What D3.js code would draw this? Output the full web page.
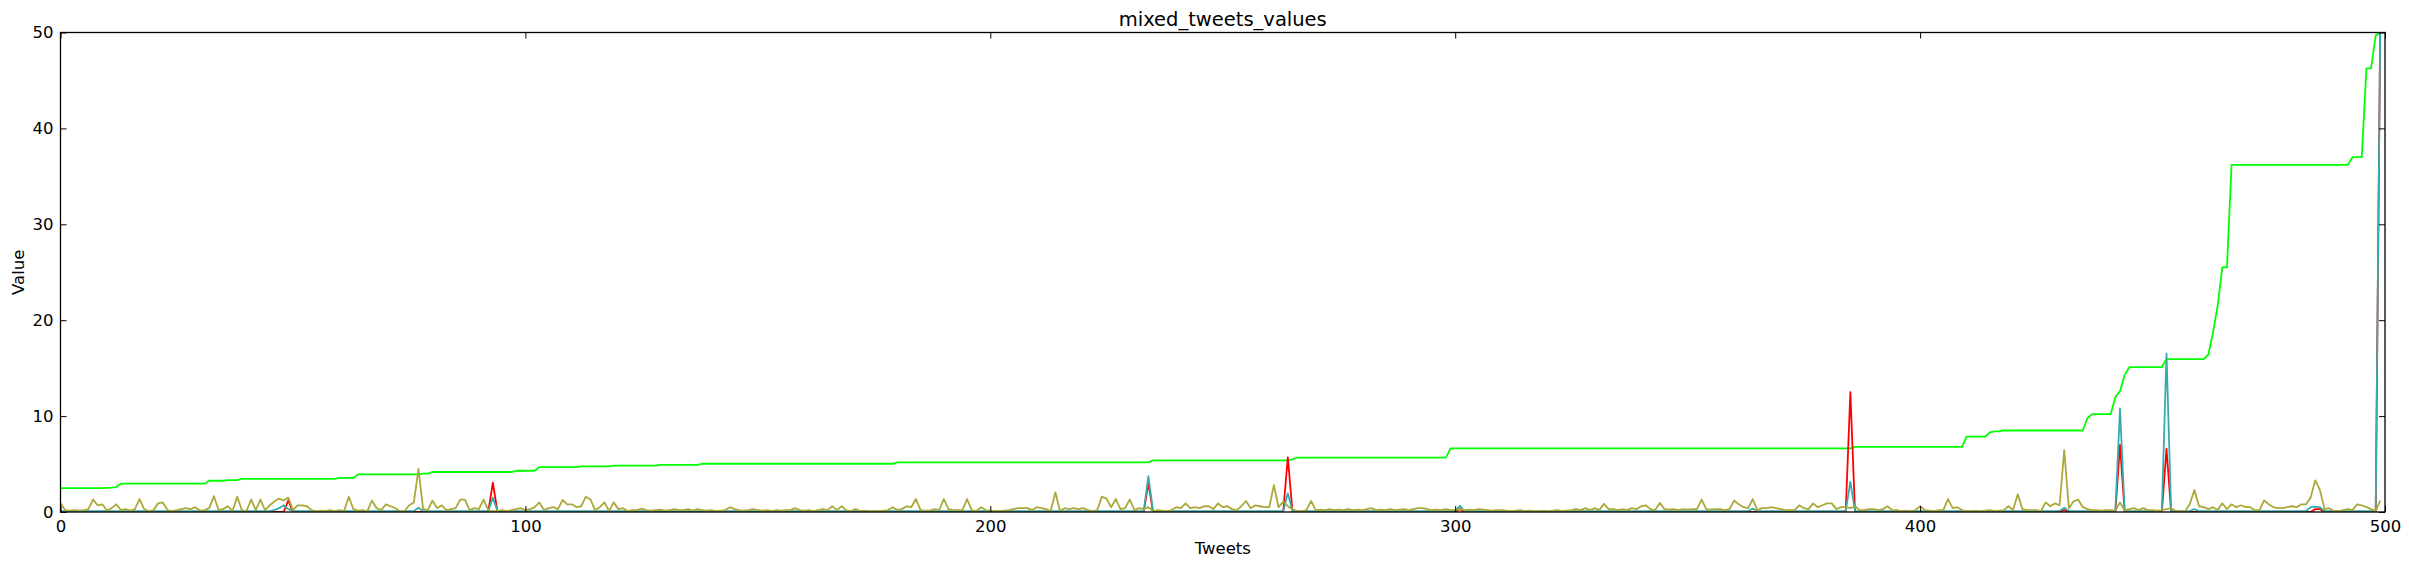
<!DOCTYPE html>
<html>
<head>
<meta charset="utf-8">
<script src="https://cdn.jsdelivr.net/npm/d3@7"></script>
<style>
  body { margin: 0; background: #fff; }
  text { font-family: "DejaVu Sans", sans-serif; fill: #000; }
</style>
</head>
<body>
<script>
// size
var w = 2409, h = 570;
var plotL = 60.5, plotR = 2385, plotT = 32.5, plotB = 512;

// x ticks / y ticks
var xTicks = [0, 100, 200, 300, 400, 500];
var yTicks = [0, 10, 20, 30, 40, 50];

// green series (index 0..499), 20 per row
var greenVals = [
  2.5,2.5,2.5,2.5,2.5,2.5,2.5,2.5,2.5,2.5,  2.52,2.55,2.6,2.95,2.95,2.95,2.95,2.95,2.95,2.95,
  2.95,2.95,2.95,2.95,2.95,2.95,2.95,2.95,2.95,2.95,  2.95,2.95,3.26,3.26,3.26,3.26,3.33,3.33,3.33,3.45,
  3.45,3.45,3.45,3.45,3.45,3.45,3.45,3.45,3.45,3.45,  3.45,3.45,3.45,3.45,3.45,3.45,3.45,3.45,3.45,3.45,
  3.55,3.55,3.55,3.55,3.92,3.92,3.92,3.92,3.92,3.92,  3.92,3.92,3.92,3.92,3.92,3.92,3.92,3.92,4.0,4.0,
  4.17,4.17,4.17,4.17,4.17,4.17,4.17,4.17,4.17,4.17,  4.17,4.17,4.17,4.17,4.17,4.17,4.17,4.17,4.3,4.3,
  4.3,4.3,4.3,4.68,4.68,4.68,4.68,4.68,4.68,4.68,  4.68,4.68,4.75,4.75,4.75,4.75,4.75,4.75,4.75,4.83,
  4.83,4.83,4.83,4.83,4.83,4.83,4.83,4.83,4.83,4.92,  4.92,4.92,4.92,4.92,4.92,4.92,4.92,4.92,5.03,5.03,
  5.03,5.03,5.03,5.03,5.03,5.03,5.03,5.03,5.03,5.03,  5.03,5.03,5.03,5.03,5.03,5.03,5.03,5.03,5.03,5.03,
  5.03,5.03,5.03,5.03,5.03,5.03,5.03,5.03,5.03,5.03,  5.03,5.03,5.03,5.03,5.03,5.03,5.03,5.03,5.03,5.03,
  5.17,5.17,5.17,5.17,5.17,5.17,5.17,5.17,5.17,5.17,  5.17,5.17,5.17,5.17,5.17,5.17,5.17,5.17,5.17,5.17,
  5.17,5.17,5.17,5.17,5.17,5.17,5.17,5.17,5.17,5.17,  5.17,5.17,5.17,5.17,5.17,5.17,5.17,5.17,5.17,5.17,
  5.17,5.17,5.17,5.17,5.17,5.17,5.17,5.17,5.17,5.17,  5.17,5.17,5.17,5.17,5.17,5.38,5.38,5.38,5.38,5.38,
  5.38,5.38,5.38,5.38,5.38,5.38,5.38,5.38,5.38,5.38,  5.38,5.38,5.38,5.38,5.38,5.38,5.38,5.38,5.38,5.38,
  5.38,5.38,5.38,5.38,5.38,5.5,5.66,5.66,5.66,5.66,  5.66,5.66,5.66,5.66,5.66,5.66,5.66,5.66,5.66,5.66,
  5.66,5.66,5.66,5.66,5.66,5.66,5.66,5.66,5.66,5.66,  5.66,5.66,5.66,5.66,5.66,5.66,5.66,5.66,5.66,6.63,
  6.63,6.63,6.63,6.63,6.63,6.63,6.63,6.63,6.63,6.63,  6.63,6.63,6.63,6.63,6.63,6.63,6.63,6.63,6.63,6.63,
  6.63,6.63,6.63,6.63,6.63,6.63,6.63,6.63,6.63,6.63,  6.63,6.63,6.63,6.63,6.63,6.63,6.63,6.63,6.63,6.63,
  6.63,6.63,6.63,6.63,6.63,6.63,6.63,6.63,6.63,6.63,  6.63,6.63,6.63,6.63,6.63,6.63,6.63,6.63,6.63,6.63,
  6.63,6.63,6.63,6.63,6.63,6.63,6.63,6.63,6.63,6.63,  6.63,6.63,6.63,6.63,6.63,6.63,6.63,6.63,6.63,6.63,
  6.63,6.63,6.63,6.63,6.63,6.63,6.8,6.8,6.8,6.8,  6.8,6.8,6.8,6.8,6.8,6.8,6.8,6.8,6.8,6.8,
  6.8,6.8,6.8,6.8,6.8,6.8,6.8,6.8,6.8,6.8,  7.85,7.85,7.85,7.85,7.85,8.3,8.4,8.4,8.5,8.5,
  8.5,8.5,8.5,8.5,8.5,8.5,8.5,8.5,8.5,8.5,  8.5,8.5,8.5,8.5,8.5,8.5,9.8,10.2,10.2,10.2,
  10.2,10.2,12.0,12.6,14.3,15.1,15.1,15.1,15.1,15.1,  15.1,15.1,15.1,15.95,15.95,15.95,15.95,15.95,15.95,15.95,
  15.95,15.95,16.4,18.7,21.5,25.5,25.5,36.2,36.2,36.2,  36.2,36.2,36.2,36.2,36.2,36.2,36.2,36.2,36.2,36.2,
  36.2,36.2,36.2,36.2,36.2,36.2,36.2,36.2,36.2,36.2,  36.2,36.2,36.2,37.0,37.0,37.0,46.25,46.25,49.7,50
];

// red series
var redVals = [
  0,0,0,0,0,0,0,0,0,0,  0,0,0,0,0,0,0,0,0,0,
  0,0,0,0,0,0,0,0,0,0,  0,0,0,0,0,0,0,0,0,0,
  0,0,0,0,0,0,0,0,0,1.2,  0,0,0,0,0,0,0,0,0,0,
  0,0,0,0,0,0,0,0,0,0,  0,0,0,0,0,0,0,0,0,0,
  0,0,0,0,0,0,0,0,0,0,  0,0,0,3.05,0,0,0,0,0,0,
  0,0,0,0,0,0,0,0,0,0,  0,0,0,0,0,0,0,0,0,0,
  0,0,0,0,0,0,0,0,0,0,  0,0,0,0,0,0,0,0,0,0,
  0,0,0,0,0,0,0,0,0,0,  0,0,0,0,0,0,0,0,0,0,
  0,0,0,0,0,0,0,0,0,0,  0,0,0,0,0,0,0,0,0,0,
  0,0,0,0,0,0,0,0,0,0,  0,0,0,0,0,0,0,0,0,0,
  0,0,0,0,0,0,0,0,0,0,  0,0,0,0,0,0,0,0,0,0,
  0,0,0,0,0,0,0,0,0,0,  0,0,0,0,3.0,0,0,0,0,0,
  0,0,0,0,0,0,0,0,0,0,  0,0,0,0,0,0,0,0,0,0,
  0,0,0,0,5.7,0,0,0,0,0,  0,0,0,0,0,0,0,0,0,0,
  0,0,0,0,0,0,0,0,0,0,  0,0,0,0,0,0,0,0,0,0,
  0,0.3,0,0,0,0,0,0,0,0,  0,0,0,0,0,0,0,0,0,0,
  0,0,0,0,0,0,0,0,0,0,  0,0,0,0,0,0,0,0,0,0,
  0,0,0,0,0,0,0,0,0,0,  0,0,0,0,0,0,0,0,0,0,
  0,0,0,0,0,0,0,0,0,0,  0,0,0,0,0,0,0,0,0,0,
  0,0,0,0,0,12.5,0,0,0,0,  0,0,0,0,0,0,0,0,0,0,
  0,0,0,0,0,0,0,0,0,0,  0,0,0,0,0,0,0,0,0,0,
  0,0,0,0,0,0,0,0,0,0,  0,0.2,0,0,0,0,0,0,0,0,
  0,0,0,7.0,0,0,0,0,0,0,  0,0,0,6.6,0,0,0,0,0,0,
  0,0,0,0,0,0,0,0,0,0,  0,0,0,0,0,0,0,0,0,0,
  0,0,0,0,0,0.3,0.3,0,0,0,  0,0,0,0,0,0,0,0,0,52
];

// cyan series
var cyanVals = [
  0.1,0.1,0.1,0.1,0.1,0.1,0.1,0.1,0.1,0.1,  0.1,0.1,0.1,0.1,0.1,0.1,0.1,0.1,0.1,0.1,
  0.1,0.1,0.1,0.1,0.1,0.1,0.1,0.1,0.1,0.1,  0.1,0.1,0.1,0.1,0.1,0.1,0.1,0.1,0.1,0.1,
  0.1,0.1,0.1,0.1,0.1,0.1,0.2,0.4,0.7,0.3,  0.1,0.1,0.1,0.1,0.1,0.1,0.1,0.1,0.1,0.1,
  0.1,0.1,0.1,0.1,0.1,0.1,0.1,0.1,0.1,0.1,  0.1,0.1,0.1,0.1,0.1,0.1,0.1,0.45,0.1,0.1,
  0.1,0.1,0.1,0.1,0.1,0.1,0.1,0.1,0.1,0.1,  0.1,0.1,0.1,1.5,0.1,0.1,0.1,0.1,0.1,0.1,
  0.1,0.1,0.1,0.1,0.1,0.1,0.1,0.1,0.1,0.1,  0.1,0.1,0.1,0.1,0.1,0.1,0.1,0.1,0.1,0.1,
  0.1,0.1,0.1,0.1,0.1,0.1,0.1,0.1,0.1,0.1,  0.1,0.1,0.1,0.1,0.1,0.1,0.1,0.1,0.1,0.1,
  0.1,0.1,0.1,0.1,0.1,0.1,0.1,0.1,0.1,0.1,  0.1,0.1,0.1,0.1,0.1,0.1,0.1,0.1,0.1,0.1,
  0.1,0.1,0.1,0.1,0.1,0.1,0.1,0.1,0.1,0.1,  0.1,0.1,0.1,0.1,0.1,0.1,0.1,0.1,0.1,0.1,
  0.1,0.1,0.1,0.1,0.1,0.1,0.1,0.1,0.1,0.1,  0.1,0.1,0.1,0.1,0.1,0.1,0.1,0.1,0.1,0.1,
  0.1,0.1,0.1,0.1,0.1,0.1,0.1,0.1,0.1,0.1,  0.1,0.1,0.1,0.1,0.1,0.1,0.1,0.1,0.1,0.1,
  0.1,0.1,0.1,0.1,0.1,0.1,0.1,0.1,0.1,0.1,  0.1,0.1,0.1,0.1,3.75,0.1,0.1,0.1,0.1,0.1,
  0.1,0.1,0.1,0.1,0.1,0.1,0.1,0.1,0.1,0.1,  0.1,0.1,0.1,0.1,0.1,0.1,0.1,0.1,0.1,0.1,
  0.1,0.1,0.1,0.1,1.95,0.1,0.1,0.1,0.1,0.1,  0.1,0.1,0.1,0.1,0.1,0.1,0.1,0.1,0.1,0.1,
  0.1,0.1,0.1,0.1,0.1,0.1,0.1,0.1,0.1,0.1,  0.1,0.1,0.1,0.1,0.1,0.1,0.1,0.1,0.1,0.1,
  0.1,0.65,0.1,0.1,0.1,0.1,0.1,0.1,0.1,0.1,  0.1,0.1,0.1,0.1,0.1,0.1,0.1,0.1,0.1,0.1,
  0.1,0.1,0.1,0.1,0.1,0.1,0.1,0.1,0.1,0.1,  0.1,0.1,0.1,0.1,0.1,0.1,0.1,0.1,0.1,0.1,
  0.1,0.1,0.1,0.1,0.1,0.1,0.1,0.1,0.1,0.1,  0.1,0.1,0.1,0.1,0.1,0.1,0.1,0.1,0.1,0.1,
  0.1,0.1,0.1,0.1,0.35,0.1,0.1,0.1,0.1,0.1,  0.1,0.1,0.1,0.1,0.1,0.1,0.1,0.1,0.1,0.1,
  0.1,0.1,0.1,0.1,0.1,3.15,0.1,0.1,0.1,0.1,  0.1,0.1,0.1,0.1,0.1,0.1,0.1,0.1,0.1,0.1,
  0.1,0.1,0.1,0.1,0.1,0.1,0.1,0.1,0.1,0.1,  0.1,0.1,0.1,0.1,0.1,0.1,0.1,0.1,0.1,0.1,
  0.1,0.1,0.1,0.1,0.1,0.1,0.1,0.1,0.1,0.1,  0.1,0.45,0.1,0.1,0.1,0.1,0.1,0.1,0.1,0.1,
  0.1,0.1,0.1,10.8,0.1,0.1,0.1,0.1,0.1,0.1,  0.1,0.1,0.1,16.5,0.1,0.1,0.1,0.1,0.1,0.3,
  0.1,0.1,0.1,0.1,0.1,0.1,0.1,0.1,0.1,0.1,  0.1,0.1,0.1,0.1,0.1,0.1,0.1,0.1,0.1,0.1,
  0.1,0.1,0.1,0.1,0.5,0.55,0.5,0.1,0.1,0.1,  0.1,0.1,0.1,0.1,0.1,0.1,0.1,0.1,0.1,52
];

// olive series
var oliveVals = [
  0.9,0.2,0.15,0.2,0.15,0.2,0.3,1.3,0.7,0.8,  0.15,0.4,0.8,0.2,0.3,0.15,0.3,1.35,0.3,0.1,
  0.2,0.9,1.0,0.2,0.1,0.2,0.3,0.4,0.3,0.5,  0.15,0.2,0.4,1.65,0.2,0.3,0.6,0.1,1.6,0.2,
  0.1,1.3,0.2,1.3,0.2,0.7,1.1,1.4,1.2,1.5,  0.2,0.7,0.7,0.6,0.2,0.1,0.15,0.1,0.2,0.1,
  0.2,0.1,1.6,0.3,0.15,0.2,0.1,1.2,0.4,0.2,  0.8,0.6,0.4,0.1,0.1,0.7,1.0,4.5,0.3,0.2,
  1.2,0.4,0.7,0.2,0.3,0.4,1.3,1.3,0.2,0.4,  0.3,1.3,0.2,0.1,0.1,0.2,0.1,0.2,0.3,0.4,
  0.2,0.3,0.5,1.0,0.2,0.4,0.5,0.3,1.25,0.8,  0.8,0.5,0.6,1.6,1.3,0.2,0.5,1.0,0.1,1.0,
  0.3,0.4,0.1,0.2,0.2,0.35,0.2,0.15,0.2,0.25,  0.15,0.2,0.3,0.2,0.2,0.3,0.15,0.3,0.2,0.15,
  0.2,0.1,0.15,0.2,0.5,0.3,0.2,0.15,0.2,0.3,  0.2,0.15,0.2,0.1,0.2,0.15,0.2,0.2,0.4,0.2,
  0.15,0.2,0.1,0.2,0.3,0.2,0.6,0.2,0.6,0.2,  0.1,0.3,0.1,0.15,0.1,0.1,0.1,0.15,0.2,0.5,
  0.2,0.3,0.6,0.5,1.35,0.2,0.15,0.15,0.3,0.2,  1.35,0.3,0.2,0.2,0.2,1.35,0.2,0.1,0.5,0.2,
  0.15,0.1,0.1,0.15,0.2,0.3,0.4,0.4,0.4,0.2,  0.5,0.4,0.3,0.1,2.05,0.1,0.4,0.3,0.4,0.3,
  0.4,0.2,0.1,0.2,1.6,1.4,0.5,1.35,0.3,0.4,  1.3,0.2,0.4,0.3,0.5,0.1,0.2,0.15,0.1,0.2,
  0.5,0.4,0.9,0.4,0.5,0.4,0.6,0.6,0.3,0.9,  0.5,0.6,0.3,0.2,0.6,1.15,0.4,0.7,0.6,0.5,
  0.5,2.8,0.5,1.1,0.6,0.3,0.1,0.1,0.2,1.15,  0.2,0.25,0.2,0.3,0.2,0.25,0.2,0.3,0.2,0.25,
  0.2,0.3,0.4,0.2,0.25,0.2,0.3,0.2,0.25,0.3,  0.2,0.3,0.4,0.4,0.3,0.2,0.25,0.2,0.3,0.2,
  0.2,0.3,0.2,0.25,0.2,0.3,0.25,0.2,0.15,0.2,  0.2,0.15,0.1,0.15,0.2,0.1,0.15,0.1,0.1,0.15,
  0.1,0.15,0.2,0.1,0.15,0.2,0.3,0.2,0.4,0.2,  0.4,0.2,0.85,0.3,0.3,0.2,0.3,0.2,0.4,0.3,
  0.6,0.7,0.3,0.2,0.95,0.3,0.25,0.3,0.2,0.3,  0.25,0.3,0.3,1.3,0.3,0.25,0.3,0.3,0.2,0.3,
  1.2,0.8,0.5,0.4,1.35,0.2,0.4,0.4,0.5,0.4,  0.3,0.2,0.2,0.2,0.7,0.4,0.3,0.9,0.5,0.7,
  0.9,0.9,0.3,0.5,0.5,0.4,0.6,0.2,0.2,0.3,  0.3,0.2,0.3,0.6,0.2,0.2,0.1,0.15,0.1,0.2,
  0.6,0.2,0.15,0.1,0.2,0.2,1.35,0.4,0.5,0.2,  0.1,0.1,0.15,0.1,0.15,0.2,0.1,0.15,0.2,0.6,
  0.2,1.85,0.3,0.2,0.2,0.2,0.1,1.0,0.6,0.9,  0.7,6.45,0.4,1.1,1.3,0.5,0.3,0.2,0.2,0.15,
  0.2,0.2,0.15,1.0,0.2,0.3,0.4,0.2,0.4,0.2,  0.2,0.15,0.2,0.3,0.4,0.1,0.1,0.1,0.8,2.3,
  0.6,0.5,0.3,0.5,0.2,0.9,0.3,0.8,0.5,0.7,  0.5,0.5,0.2,0.2,1.2,0.8,0.5,0.4,0.4,0.5,
  0.6,0.5,0.8,0.8,1.5,3.3,2.3,0.3,0.4,0.1,  0.1,0.2,0.3,0.2,0.8,0.7,0.5,0.3,0.1,1.2
];

// draw order as in the picture
var series = [
  { vals: greenVals, color: "#00ff00" },
  { vals: redVals,   color: "#ff0000" },
  { vals: cyanVals,  color: "#36abad" },
  { vals: oliveVals, color: "#aca83a" }
];

var x = d3.scaleLinear().domain([0, 500]).range([plotL, plotR]);
var y = d3.scaleLinear().domain([0, 50]).range([plotB, plotT]);

var svg = d3.select("body")
  .append("svg")
  .attr("width", w)
  .attr("height", h);

svg.append("clipPath").attr("id", "plotclip")
  .append("rect")
  .attr("x", plotL).attr("y", plotT)
  .attr("width", plotR - plotL).attr("height", plotB - plotT);

var line = d3.line()
  .x(function(d, i) { return x(i); })
  .y(function(d) { return y(d); });

svg.append("g")
  .attr("clip-path", "url(#plotclip)")
  .selectAll("path")
  .data(series)
  .enter()
  .append("path")
  .attr("d", function(s) { return line(s.vals); })
  .attr("fill", "none")
  .attr("stroke", function(s) { return s.color; })
  .attr("stroke-width", 1.8)
  .attr("stroke-linejoin", "round");

// axes, ticks pointing inward
function styleAxis(g) {
  g.select(".domain").remove();
  g.selectAll(".tick line").attr("stroke", "#000").attr("stroke-width", 1);
  g.selectAll(".tick text")
    .style("font-family", "DejaVu Sans, sans-serif")
    .style("font-size", "16.5px")
    .attr("fill", "#000");
}

svg.append("g")
  .attr("transform", "translate(0," + plotB + ")")
  .call(d3.axisBottom(x).tickValues(xTicks).tickSizeInner(-6).tickSizeOuter(0).tickPadding(8))
  .call(styleAxis);

svg.append("g")
  .attr("transform", "translate(0," + plotT + ")")
  .call(d3.axisTop(x).tickValues(xTicks).tickSizeInner(-6).tickSizeOuter(0).tickFormat(""))
  .call(styleAxis);

svg.append("g")
  .attr("transform", "translate(" + plotL + ",0)")
  .call(d3.axisLeft(y).tickValues(yTicks).tickSizeInner(-6).tickSizeOuter(0).tickPadding(7))
  .call(styleAxis);

svg.append("g")
  .attr("transform", "translate(" + plotR + ",0)")
  .call(d3.axisRight(y).tickValues(yTicks).tickSizeInner(-6).tickSizeOuter(0).tickFormat(""))
  .call(styleAxis);

// frame
svg.append("rect")
  .attr("x", plotL).attr("y", plotT)
  .attr("width", plotR - plotL).attr("height", plotB - plotT)
  .attr("fill", "none")
  .attr("stroke", "#000")
  .attr("stroke-width", 1.3);

// title and labels
svg.append("text")
  .attr("x", (plotL + plotR) / 2)
  .attr("y", 26)
  .attr("text-anchor", "middle")
  .style("font-size", "19.5px")
  .text("mixed_tweets_values");

svg.append("text")
  .attr("x", (plotL + plotR) / 2)
  .attr("y", 554)
  .attr("text-anchor", "middle")
  .style("font-size", "16.5px")
  .text("Tweets");

svg.append("text")
  .attr("transform", "translate(24," + (plotT + plotB) / 2 + ") rotate(-90)")
  .attr("text-anchor", "middle")
  .style("font-size", "16.5px")
  .text("Value");
</script>
</body>
</html>
